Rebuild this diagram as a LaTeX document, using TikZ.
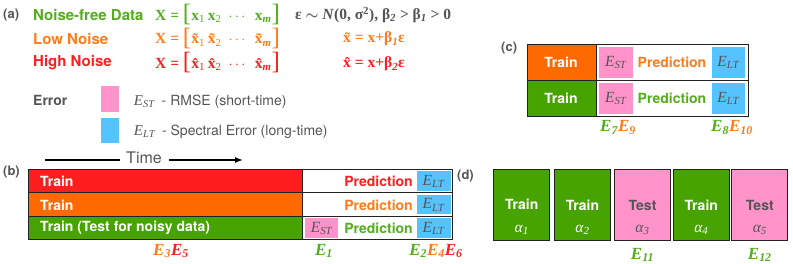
\documentclass[tikz,border=0pt]{standalone}
\usepackage{amsmath}
\usepackage{fontspec}
\setmainfont{TeX Gyre Heros}
\newfontfamily\tms{Liberation Serif}
\usetikzlibrary{arrows.meta}
\definecolor{cleanG}{HTML}{46A300}
\definecolor{cleanT}{HTML}{52AE1C}
\definecolor{lowO}{HTML}{FF6A00}
\definecolor{lowT}{HTML}{FF7A1A}
\definecolor{highR}{HTML}{FF1E1E}
\definecolor{stPink}{HTML}{FF93CA}
\definecolor{ltBlue}{HTML}{55C3FF}
\definecolor{tagGray}{HTML}{555555}
\definecolor{boxLine}{HTML}{222222}
\newcommand{\fsz}[1]{\fontsize{#1}{#1}\selectfont}
\newcommand{\tallbr}[1]{{\mdseries\upshape\fsz{25}\raisebox{-1.5pt}{#1}}}
\newcommand{\sub}[1]{\textsubscript{\mdseries #1}}
\newcommand{\isub}[1]{\textsubscript{\itshape #1}}
\newcommand{\Elbl}[2]{\textcolor{#1}{E\isub{#2}}}
\begin{document}
\begin{tikzpicture}[x=1pt, y=-1pt,
		tag/.style={anchor=west, inner sep=0pt, text=tagGray, font=\fsz{13}\bfseries},
		head/.style={anchor=west, inner sep=0pt, font=\fsz{15}\bfseries},
		eqn/.style={anchor=west, inner sep=0pt, font=\tms\fsz{15.5}\bfseries},
		note/.style={anchor=west, inner sep=0pt, text=tagGray, font=\fsz{14}},
		wtxt/.style={inner sep=0pt, text=white, font=\fsz{14}\bfseries},
		ptxt/.style={inner sep=0pt, font=\fsz{14}\bfseries},
		etxt/.style={inner sep=0pt, text=tagGray, font=\tms\fsz{15.5}\itshape},
		elbl/.style={inner sep=0pt, font=\tms\fsz{17}\bfseries\itshape},
		dbox/.style={draw=boxLine, line width=1pt, minimum width=56pt, minimum height=71pt, inner sep=0pt}]
	\useasboundingbox (0,0) rectangle (793,264);
	% (a)
	\node[tag] (tagA) at (3,15) {(a)};
	\node[head, text=cleanT] (hClean) at (33,15) {Noise-free Data};
	\node[head, text=lowT] (hLow) at (33,38.5) {Low Noise};
	\node[head, text=highR] (hHigh) at (33,63) {High Noise};
	\node[eqn, text=cleanT] (xClean) at (155,15) {X = \tallbr{[}x\sub{1}\hspace{3pt}x\sub{2}\hspace{7pt}$\cdots$\hspace{7pt}x\isub{m}\tallbr{]}};
	\node[eqn, text=lowT] (xLow) at (155,38.5) {X = \tallbr{[}\~x\sub{1}\hspace{3pt}\~x\sub{2}\hspace{7pt}$\cdots$\hspace{7pt}\~x\isub{m}\tallbr{]}};
	\node[eqn, text=highR] (xHigh) at (155,63) {X = \tallbr{[}\^x\sub{1}\hspace{3pt}\^x\sub{2}\hspace{7pt}$\cdots$\hspace{7pt}\^x\isub{m}\tallbr{]}};
	\node[eqn, text=tagGray] (noiseDef) at (295,15) {ε $\boldsymbol{\sim}$ \textit{N}(0, σ\textsuperscript{2}), β\isub{2} > β\isub{1} > 0};
	\node[eqn, text=lowT] (eqLow) at (343,39) {\~x = x+β\isub{1}ε};
	\node[eqn, text=highR] (eqHigh) at (343,64) {\^x = x+β\isub{2}ε};
	\node[tag, font=\fsz{14}\bfseries] (errTag) at (33,100) {Error};
	\fill[stPink] (101,86) rectangle (119,112);
	\fill[ltBlue] (101,118) rectangle (119,143);
	\node[note] (errST) at (130,101.5) {{\tms\itshape\fsz{15} E\sub{ST}}\hspace{7pt}- RMSE (short-time)};
	\node[note] (errLT) at (130,131.5) {{\tms\itshape\fsz{15} E\sub{LT}}\hspace{7pt}- Spectral Error (long-time)};
	% time arrow
	\coordinate (tStart) at (45,160);
	\coordinate (tEnd) at (243,160);
	\node[inner sep=0pt, text=tagGray, font=\fsz{16}] (timeLbl) at (144,157.5) {Time};
	\draw[line width=1.4pt] (tStart) -- ([xshift=-6pt]timeLbl.west |- tStart);
	\draw[line width=1.4pt, -{Latex[length=8pt, width=6pt]}] ([xshift=7pt]timeLbl.east |- tStart) -- (tEnd);
	% (b)
	\node[tag] (tagB) at (3,172) {(b)};
	\fill[highR] (28,169.5) rectangle (302,193);
	\fill[lowO] (28,193) rectangle (302,216.5);
	\fill[cleanG] (28,216.5) rectangle (302,240);
	\fill[ltBlue] (416.5,171.5) rectangle (450.5,191);
	\fill[ltBlue] (416.5,195) rectangle (450.5,214.5);
	\fill[ltBlue] (416.5,218.5) rectangle (450.5,238);
	\fill[stPink] (305,218.5) rectangle (338,238);
	\draw[boxLine, line width=1pt] (28,169.5) rectangle (452,240);
	\draw[boxLine, line width=1pt] (28,193) -- (452,193);
	\draw[boxLine, line width=1pt] (28,216.5) -- (452,216.5);
	\draw[boxLine, line width=1pt] (302,169.5) -- (302,240);
	\node[wtxt, anchor=west] (bTrain1) at (40,181.3) {Train};
	\node[wtxt, anchor=west] (bTrain2) at (40,205) {Train};
	\node[wtxt, anchor=west] (bTrain3) at (40,228.3) {Train (Test for noisy data)};
	\node[ptxt, anchor=east, text=highR] (bPred1) at (413,181.3) {Prediction};
	\node[ptxt, anchor=east, text=lowT] (bPred2) at (413,205) {Prediction};
	\node[ptxt, anchor=east, text=cleanT] (bPred3) at (413,228.3) {Prediction};
	\node[etxt] (bLT1) at (433.5,181.3) {E\sub{LT}};
	\node[etxt] (bLT2) at (433.5,205) {E\sub{LT}};
	\node[etxt] (bLT3) at (433.5,228.3) {E\sub{LT}};
	\node[etxt] (bST3) at (321.5,228.3) {E\sub{ST}};
	\node[elbl] (bE35) at (171,251) {\Elbl{lowT}{3}\Elbl{highR}{5}};
	\node[elbl] (bE1) at (324,251) {\Elbl{cleanT}{1}};
	\node[elbl] (bE246) at (436,251) {\Elbl{cleanT}{2}\Elbl{lowT}{4}\Elbl{highR}{6}};
	% (c)
	\node[tag] (tagC) at (501,48) {(c)};
	\fill[lowO] (527,45) rectangle (596,80.7);
	\fill[cleanG] (527,80.7) rectangle (596,116.7);
	\fill[stPink] (599,47.5) rectangle (632.5,78.2);
	\fill[stPink] (599,83.2) rectangle (632.5,114.2);
	\fill[ltBlue] (711.5,47.5) rectangle (745,78.2);
	\fill[ltBlue] (711.5,83.2) rectangle (745,114.2);
	\draw[boxLine, line width=1pt] (527,45) rectangle (748,116.7);
	\draw[boxLine, line width=1pt] (527,80.7) -- (748,80.7);
	\draw[boxLine, line width=1pt] (596,45) -- (596,116.7);
	\node[wtxt] (cTrain1) at (561,62.8) {Train};
	\node[wtxt] (cTrain2) at (561,98.7) {Train};
	\node[etxt] (cST1) at (615.8,62.8) {E\sub{ST}};
	\node[etxt] (cST2) at (615.8,98.7) {E\sub{ST}};
	\node[ptxt, text=lowT] (cPred1) at (672,62.8) {Prediction};
	\node[ptxt, text=cleanT] (cPred2) at (672,98.7) {Prediction};
	\node[etxt] (cLT1) at (728.3,62.8) {E\sub{LT}};
	\node[etxt] (cLT2) at (728.3,98.7) {E\sub{LT}};
	\node[elbl] (cE79) at (618,127.5) {\Elbl{cleanT}{7}\Elbl{lowT}{9}};
	\node[elbl] (cE810) at (732,127.5) {\Elbl{cleanT}{8}\Elbl{lowT}{10}};
	% (d)
	\node[tag] (tagD) at (457,176) {(d)};
	\node[dbox, fill=cleanG] (d1) at (521.7,205) {};
	\node[dbox, fill=cleanG] (d2) at (582.5,205) {};
	\node[dbox, fill=stPink] (d3) at (642.5,205) {};
	\node[dbox, fill=cleanG] (d4) at (701.3,205) {};
	\node[dbox, fill=stPink] (d5) at (759.8,205) {};
	\node[wtxt] (d1t) at (521.7,204) {Train};
	\node[wtxt] (d2t) at (582.5,205) {Train};
	\node[ptxt, text=tagGray] (d3t) at (642.5,205) {Test};
	\node[wtxt] (d4t) at (701.3,205) {Train};
	\node[ptxt, text=tagGray] (d5t) at (759.8,205) {Test};
	\node[etxt, text=white] (d1a) at (521.7,230) {α\isub{1}};
	\node[etxt, text=white] (d2a) at (582.5,230) {α\isub{2}};
	\node[etxt] (d3a) at (642.5,230) {α\isub{3}};
	\node[etxt, text=white] (d4a) at (701.3,230) {α\isub{4}};
	\node[etxt] (d5a) at (759.8,230) {α\isub{5}};
	\node[elbl] (dE11) at (642.5,255) {\Elbl{cleanT}{11}};
	\node[elbl] (dE12) at (759.8,255) {\Elbl{cleanT}{12}};
\end{tikzpicture}
\end{document}
